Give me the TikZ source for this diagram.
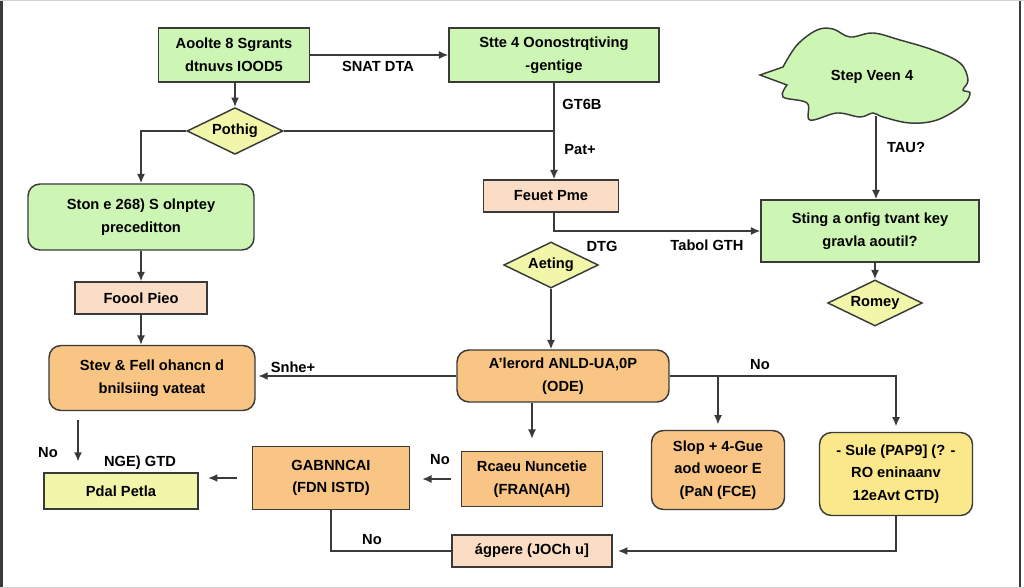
\documentclass[tikz,border=0pt]{standalone}
\usepackage{fontspec}
\setmainfont{Liberation Sans}
\usetikzlibrary{shapes.geometric,arrows.meta}
\definecolor{grn}{HTML}{CDF5B4}
\definecolor{pch}{HTML}{FBDCC5}
\definecolor{org}{HTML}{F8C584}
\definecolor{ylw}{HTML}{F2F6A8}
\definecolor{gld}{HTML}{FBE88A}
\definecolor{edge}{HTML}{3A3A3A}

\begin{document}
\begin{tikzpicture}[x=0.75pt,y=-0.75pt]
\tikzset{every node/.style={font=\fontsize{11}{17}\selectfont\bfseries},
  box/.style={draw=edge, line width=1.1pt, align=center, inner sep=2pt},
  greenbox/.style={box, fill=grn},
  greenround/.style={box, fill=grn, rounded corners=9pt},
  peachbox/.style={box, fill=pch},
  orangebox/.style={box, fill=org},
  orangeround/.style={box, fill=org, rounded corners=9pt},
  yellowbox/.style={box, fill=ylw},
  goldround/.style={box, fill=gld, rounded corners=9pt},
  decide/.style={box, diamond, fill=ylw, inner sep=0.5pt, aspect=2},
  lbl/.style={inner sep=1pt},
  arr/.style={-{Latex[length=7pt,width=6pt]}, line width=1.1pt, draw=edge},
  wire/.style={line width=1.1pt, draw=edge}}
\useasboundingbox (0,0) rectangle (1024,588);
% frame
\draw[edge, line width=1.5pt] (1.5,0) -- (1.5,588);
\draw[edge, line width=1.5pt] (1019.5,0) -- (1019.5,588);
\draw[gray!35, line width=0.75pt] (0,0.5) -- (1024,0.5);
\draw[gray!35, line width=0.75pt] (0,587.5) -- (1024,587.5);

% top row
\node[greenbox, minimum width=113pt, minimum height=40.5pt] (a1) at (234,55) {Aoolte 8 Sgrants\\dtnuvs IOOD5};
\node[greenbox, minimum width=157.5pt, minimum height=40.5pt] (a2) at (554,55) {Stte 4 Oonostrqtiving\\-gentige};
\node[decide, minimum width=72pt, minimum height=35pt] (d1) at (235,131) {Pothig};

% cloud
\draw[wire, fill=grn] (760,75) -- plot[smooth, tension=0.6] coordinates {(783,67) (797,45) (817,30) (833,29) (850,37) (873,33) (900,40) (933,50) (960,63) (968,80) (963,90) (970,93) (963,105) (937,120) (910,123) (883,117) (873,113) (860,117) (837,113) (810,120) (807,103) (783,97) (787,85)} -- cycle;
\node[lbl] (cl) at (872,77) {Step Veen 4};
\coordinate (clb) at (876,116);

% left column
\node[greenround, minimum width=169.5pt, minimum height=49.5pt] (b1) at (141,217) {Ston e 268) S olnptey\\preceditton};
\node[peachbox, minimum width=99pt, minimum height=24pt] (f1) at (141,298) {Foool Pieo};
\node[orangeround, minimum width=154.5pt, minimum height=48.75pt] (b3) at (152,378) {Stev \& Fell ohancn d\\bnilsiing vateat};
\node[yellowbox, minimum width=115.5pt, minimum height=27pt] (p1) at (121,491) {Pdal Petla};

% middle column
\node[peachbox, minimum width=101.25pt, minimum height=24pt] (fp) at (551,196) {Feuet Pme};
\node[decide, minimum width=71pt, minimum height=34.5pt] (d2) at (551,265) {Aeting};
\node[orangeround, minimum width=159pt, minimum height=39pt] (c1) at (563,376) {A'lerord ANLD-UA,0P\\(ODE)};
\node[orangebox, minimum width=105.75pt, minimum height=41.25pt] (rf) at (532,479) {Rcaeu Nuncetie\\(FRAN(AH)};
\node[orangebox, minimum width=117.75pt, minimum height=47.25pt] (ga) at (331,478) {GABNNCAI\\(FDN ISTD)};
\node[peachbox, minimum width=120pt, minimum height=24pt] (ig) at (532,551) {ágpere (JOCh u]};

% right column
\node[greenbox, minimum width=163.5pt, minimum height=46.5pt] (bk) at (870,231) {Sting a onfig tvant key\\gravla aoutil?};
\node[decide, minimum width=71pt, minimum height=34.5pt] (d3) at (875,303) {Romey};
\node[orangeround, minimum width=99.75pt, minimum height=59.25pt] (s1) at (718,470) {Slop + 4-Gue\\aod woeor E\\(PaN (FCE)};
\node[goldround, minimum width=114.75pt, minimum height=62.25pt] (s2) at (896,474) {- Sule (PAP9] (? -\\RO eninaanv\\12eAvt CTD)};

% labels
\node[lbl] (l1) at (378,66) {SNAT DTA};
\node[lbl] (l2) at (582,104) {GT6B};
\node[lbl] (l3) at (580,150) {Pat+};
\node[lbl] (l4) at (602,246) {DTG};
\node[lbl] (l5) at (707,245) {Tabol GTH};
\node[lbl] (l6) at (906,147) {TAU?};
\node[lbl] (l7) at (293,367) {Snhe+};
\node[lbl] (l8) at (48,453) {No};
\node[lbl] (l9) at (140,463) {NGE) GTD};
\node[lbl] (l10) at (440,460) {No};
\node[lbl] (l11) at (760,365) {No};
\node[lbl] (l12) at (372,540) {No};

% connectors
\draw[arr] (a1.east) -- (a2.west);
\draw[arr] (a1.south -| d1.north) -- (d1.north);
\draw[arr] (d1.west) -| (b1.north);
\draw[wire] (d1.east) -- (d1.east -| a2.south);
\draw[arr] (a2.south) -- (a2.south |- fp.north);
\draw[arr] (fp.south -| a2.south) |- (bk.west);
\draw[arr] (d2.south) -- (d2.south |- c1.north);
\draw[arr] (clb) -- (clb |- bk.north);
\draw[arr] (d3.north |- bk.south) -- (d3.north);
\draw[arr] (b1.south) -- (f1.north);
\draw[arr] (f1.south) -- (f1.south |- b3.north);
\draw[arr, shorten >=2pt] (c1.west) -- (c1.west -| b3.east);
\coordinate (n1) at (78,420);
\draw[arr, shorten >=8pt] (n1) -- (n1 |- p1.north);
\draw[arr, shorten <=11pt, shorten >=7pt] (ga.west) -- (ga.west -| p1.east);
\draw[arr, shorten <=7pt, shorten >=9pt] (rf.west) -- (rf.west -| ga.east);
\draw[arr, shorten >=9pt] (c1.south -| rf.north) -- (rf.north);
\draw[arr, shorten >=4pt] (c1.east) -| (s2.north);
\draw[arr, shorten >=4pt] (c1.east -| s1.north) -- (s1.north);
\draw[arr, shorten >=4pt] (s2.south) |- (ig.east);
\draw[wire] (ga.south) |- (ig.west);
\end{tikzpicture}
\end{document}
